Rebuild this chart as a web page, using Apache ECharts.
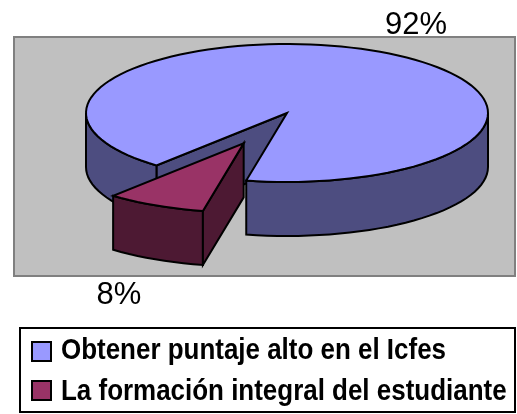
<!DOCTYPE html>
<html>
<head>
<meta charset="utf-8">
<style>
	html, body { margin: 0; padding: 0; background: #fff; }
	#main { width: 517px; height: 414px; }
</style>
<script src="https://cdn.jsdelivr.net/npm/echarts@6/dist/echarts.min.js"></script>
</head>
<body>
<div id="main"></div>
<script>
var categories = ['Obtener puntaje alto en el Icfes', 'La formación integral del estudiante'];
var values = [92, 8];
var topColors = ['#9999FF', '#993366'];
var wallColors = ['#4D4D80', '#4D1933'];

var total = values[0] + values[1];
var startAngle = 220.5; // clockwise from top, where the first slice begins

// squashed pie: centre, radii, wall height
var cx = 287, cy = 113, rx = 201, ry = 69, depth = 54;
var explode = 0.49;

function point(angle, ox, oy, drop) {
	var rad = angle * Math.PI / 180;
	return [cx + ox + rx * Math.sin(rad), cy + oy - ry * Math.cos(rad) + drop];
}

function arc(from, to, ox, oy, drop) {
	var pts = [];
	var n = Math.max(1, Math.ceil(Math.abs(to - from) / 3));
	for (var i = 0; i <= n; i++) {
		pts.push(point(from + (to - from) * i / n, ox, oy, drop));
	}
	return pts;
}

function polygon(points, color) {
	return {
		type: 'polygon',
		shape: { points: points },
		style: { fill: color, stroke: '#000', lineWidth: 2, lineJoin: 'miter' }
	};
}

function wall(from, to, ox, oy, color) {
	return polygon(arc(from, to, ox, oy, 0).concat(arc(to, from, ox, oy, depth)), color);
}

function renderMain(params, api) {
	var span = api.value(0) / total * 360;
	var c = wallColors[0];
	var from = startAngle, to = startAngle + span;
	var centre = [cx, cy];
	return {
		type: 'group',
		children: [
			// cut face seen through the gap
			polygon([centre, point(from, 0, 0, 0), point(from, 0, 0, depth), [cx, cy + depth]], c),
			wall(from, 270, 0, 0, c),
			wall(90, to - 360, 0, 0, c),
			polygon([centre].concat(arc(from, to, 0, 0, 0)), topColors[0])
		]
	};
}

function renderSlice(params, api) {
	var span = api.value(0) / total * 360;
	var from = startAngle - span, to = startAngle;
	var mid = (from + to) / 2 * Math.PI / 180;
	var ox = rx * Math.sin(mid) * explode, oy = -ry * Math.cos(mid) * explode;
	var c = wallColors[1];
	var tip = [cx + ox, cy + oy];
	return {
		type: 'group',
		children: [
			wall(from, to, ox, oy, c),
			polygon([tip, point(from, ox, oy, 0), point(from, ox, oy, depth), [tip[0], tip[1] + depth]], c),
			polygon([tip].concat(arc(from, to, ox, oy, 0)), topColors[1])
		]
	};
}

function percent(i) {
	return Math.round(values[i] / total * 100) + '%';
}

function labelText(x, y, text) {
	return {
		type: 'text',
		x: x,
		y: y,
		style: { text: text, font: '31px "Liberation Sans"', fill: '#000', align: 'center', verticalAlign: 'middle' }
	};
}

// legend is drawn by hand: no narrow bold font here, so the text gets squeezed
function legendRow(i, iconY, textY) {
	return [{
		type: 'rect',
		shape: { x: 32, y: iconY, width: 19, height: 19 },
		style: { fill: topColors[i], stroke: '#000', lineWidth: 2 }
	}, {
		type: 'text',
		x: 61,
		y: textY,
		scaleX: 0.865,
		style: { text: categories[i], font: 'bold 30px "Liberation Sans"', fill: '#000', align: 'left', verticalAlign: 'middle' }
	}];
}

var chart = echarts.init(document.getElementById('main'));
chart.setOption({
	animation: false,
	graphic: [{
		type: 'rect',
		z: -1,
		shape: { x: 14, y: 37, width: 501, height: 239 },
		style: { fill: '#C0C0C0', stroke: '#808080', lineWidth: 2 }
	}, labelText(416, 25, percent(0)), labelText(119, 295, percent(1)), {
		type: 'rect',
		shape: { x: 20, y: 328, width: 495, height: 84 },
		style: { fill: '#fff', stroke: '#000', lineWidth: 2 }
	}].concat(legendRow(0, 342, 351), legendRow(1, 381, 392)),
	series: [{
		type: 'custom',
		name: categories[0],
		coordinateSystem: 'none',
		itemStyle: { color: topColors[0] },
		renderItem: renderMain,
		data: [[values[0]]]
	}, {
		type: 'custom',
		name: categories[1],
		coordinateSystem: 'none',
		itemStyle: { color: topColors[1] },
		renderItem: renderSlice,
		data: [[values[1]]]
	}]
});
</script>
</body>
</html>
